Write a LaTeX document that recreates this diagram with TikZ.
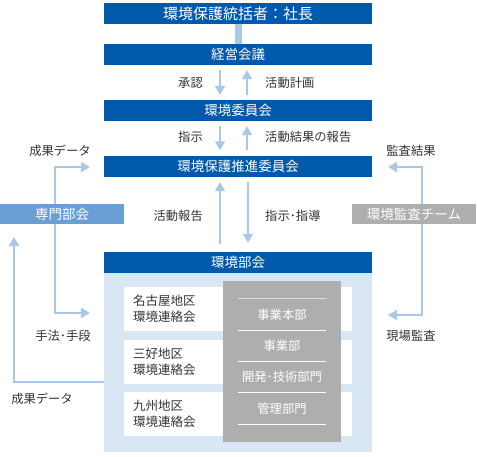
\documentclass[tikz,border=0pt]{standalone}
\usepackage{fontspec}
\setmainfont{Noto Sans CJK JP}
\usetikzlibrary{matrix,arrows.meta,backgrounds}
\definecolor{kblue}{HTML}{0059AB}
\definecolor{klight}{HTML}{A9C8E8}
\definecolor{kpanel}{HTML}{D9E6F3}
\definecolor{kgray}{HTML}{AEAEAE}
\definecolor{kmid}{HTML}{6A9FD3}
\definecolor{ktext}{HTML}{333333}
\tikzstyle{bluebar} = [fill=kblue, text=white, minimum width=268pt, minimum height=21pt, inner sep=0pt, font=\fontsize{13.5}{15}\selectfont]
\tikzstyle{sidebox} = [text=white, minimum width=124pt, minimum height=20pt, inner sep=0pt, font=\fontsize{13.5}{15}\selectfont]
\tikzstyle{areabox} = [fill=white, minimum width=228pt, minimum height=44pt, text width=210pt, inner xsep=9pt, align=left, text=ktext, font=\fontsize{12.5}{16}\selectfont]
\tikzstyle{deptitem} = [text=white, minimum width=88pt, minimum height=31.25pt, inner sep=0pt, font=\fontsize{12.3}{14}\selectfont]
\tikzstyle{lbl} = [text=ktext, inner sep=0pt, font=\fontsize{12.3}{14}\selectfont]
\tikzstyle{arr} = [draw=klight, line width=2pt, -{Triangle[width=10pt,length=9pt]}]
\tikzstyle{arrboth} = [arr, {Triangle[width=10pt,length=9pt]}-{Triangle[width=10pt,length=9pt]}]

\begin{document}
\begin{tikzpicture}[x=1pt, y=-1pt]%
	\useasboundingbox (0,0) rectangle (478,456);%
	% committees
	\node [bluebar, font=\fontsize{15}{17}\selectfont] (chief) at (238,13.5) {環境保護統括者：社長};%
	\node [bluebar] (keiei) at (238,54.5) {経営会議};%
	\node [bluebar] (iinkai) at (238,110.5) {環境委員会};%
	\node [bluebar] (suishin) at (238,166) {環境保護推進委員会};%
	\node [bluebar] (bukai) at (238,262.5) {環境部会};%
	\node [sidebox, fill=kmid] (senmon) at (62,214) {専門部会};%
	\node [sidebox, fill=kgray] (kansa) at (414,214) {環境監査チーム};%
	% environment section
	\node [fill=kpanel, minimum width=268pt, minimum height=179pt, inner sep=0pt, anchor=north] (panel) at (bukai.south) {};%
	\matrix (areas) at (238,361.5) [matrix of nodes, ampersand replacement=\&, nodes={areabox},%
		inner sep=0pt, row sep=8.5pt] { {名古屋地区\\環境連絡会} \\%
		{三好地区\\環境連絡会} \\%
		{九州地区\\環境連絡会} \\%
	};%
	\node [fill=kgray, minimum width=118pt, minimum height=161pt, inner sep=0pt] (gray) at (282,361.5) {};%
	\matrix (dept) at (282,361.5) [matrix of nodes, ampersand replacement=\&, nodes={deptitem},%
		inner sep=0pt, row sep=0pt] { 事業本部 \\%
		事業部 \\%
		開発･技術部門 \\%
		管理部門 \\%
	};%
	\draw [gray!25, line width=1pt] (dept-1-1.north west) -- (dept-1-1.north east);%
	\draw [white, line width=1pt] (dept-2-1.north west) -- (dept-2-1.north east)%
		(dept-3-1.north west) -- (dept-3-1.north east)%
		(dept-4-1.north west) -- (dept-4-1.north east)%
		(dept-4-1.south west) -- (dept-4-1.south east);%
	% labels
	\node [lbl, anchor=east] (shonin) at (203,83) {承認};%
	\node [lbl, anchor=west] (keikaku) at (265,83) {活動計画};%
	\node [lbl, anchor=east] (shiji) at (203,137) {指示};%
	\node [lbl, anchor=west] (kekka) at (265,137) {活動結果の報告};%
	\node [lbl, anchor=east] (hokoku) at (203,216) {活動報告};%
	\node [lbl, anchor=west] (shido) at (265,216) {指示･指導};%
	\node [lbl] (sdata) at (60,151) {成果データ};%
	\node [lbl] (kkekka) at (411,151) {監査結果};%
	\node [lbl] (shudan) at (63,336) {手法･手段};%
	\node [lbl] (genba) at (411,336) {現場監査};%
	\node [lbl] (fdata) at (42,399) {成果データ};%
	% arrows
	\coordinate (sdTip) at (90,167);%
	\coordinate (shTip) at (90,313);%
	\coordinate (krTip) at (388,167);%
	\coordinate (gkTip) at (388,315);%
	\coordinate (fbTip) at (14,237);%
	\begin{scope}[on background layer]%
		\draw [klight, line width=7pt] (chief) -- (keiei);%
		\draw [arr, shorten <=5pt, shorten >=5pt] ([xshift=-18pt]keiei.south) -- ([xshift=-18pt]iinkai.north);%
		\draw [arr, shorten <=5pt, shorten >=5pt] ([xshift=9pt]iinkai.north) -- ([xshift=9pt]keiei.south);%
		\draw [arr, shorten <=5pt, shorten >=5pt] ([xshift=-18pt]iinkai.south) -- ([xshift=-18pt]suishin.north);%
		\draw [arr, shorten <=5pt, shorten >=5pt] ([xshift=9pt]suishin.north) -- ([xshift=9pt]iinkai.south);%
		\draw [arr, shorten <=8pt, shorten >=5.5pt] ([xshift=-18pt]bukai.north) -- ([xshift=-18pt]suishin.south);%
		\draw [arr, shorten <=5.5pt, shorten >=9pt] ([xshift=10pt]suishin.south) -- ([xshift=10pt]bukai.north);%
		\draw [arrboth] (sdTip) -| ([xshift=-7pt]senmon.center) |- (shTip);%
		\draw [arrboth] (krTip) -| ([xshift=8pt]kansa.center) |- (gkTip);%
		\draw [arr] ([yshift=-19.5pt]panel.west) -| (fbTip);%
	\end{scope}%
\end{tikzpicture}
\end{document}
